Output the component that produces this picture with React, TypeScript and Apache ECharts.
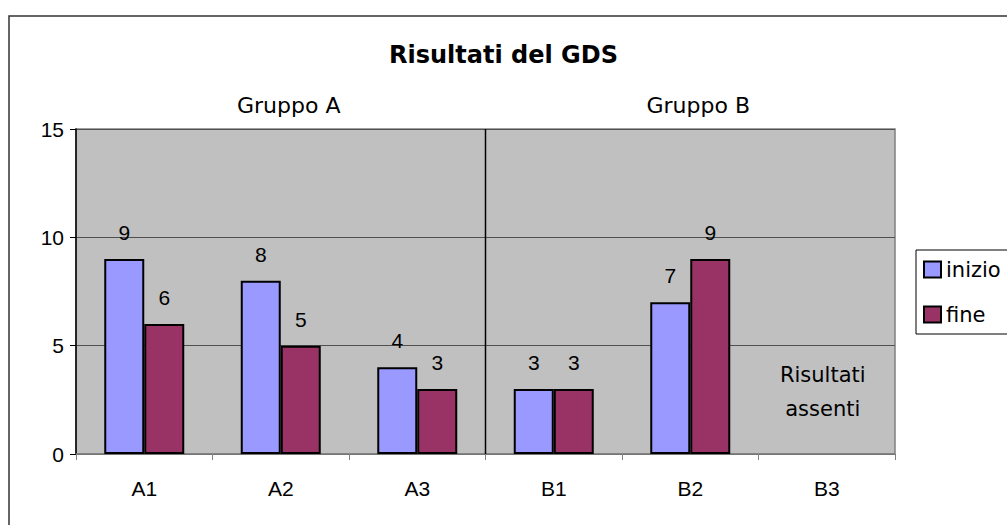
import React, { useEffect, useRef } from "react";
import * as echarts from "echarts";

const categories = ["A1", "A2", "A3", "B1", "B2", "B3"];
const inizio: (number | null)[] = [9, 8, 4, 3, 7, null];
const fine: (number | null)[] = [6, 5, 3, 3, 9, null];
const groupNames = ["Gruppo A", "Gruppo B"];
const groupMembers = [["A1", "A2", "A3"], ["B1", "B2", "B3"]];
const missingNote = "Risultati\nassenti";
const missingCategory = "B3";
const titleText = "Risultati del GDS";

const GOTHIC = "DejaVu Sans";
const ARIAL = "Liberation Sans";

export default function App() {
  const ref = useRef<HTMLDivElement>(null);
  useEffect(() => {
    document.body.style.margin = "0";
    const chart = echarts.init(ref.current!, null, { renderer: "svg" });
    const option: any = {
      animation: false,
      backgroundColor: "#fff",
      title: {
        text: titleText,
        left: "center",
        top: 38,
        textStyle: { fontFamily: GOTHIC, fontSize: 24, fontWeight: "bold", color: "#000" },
      },
      legend: {
        orient: "vertical",
        left: 916,
        top: 250,
        padding: [9, 20, 9, 7],
        itemWidth: 17,
        itemHeight: 16,
        itemGap: 24,
        borderColor: "#000",
        borderWidth: 1,
        icon: "rect",
        textStyle: { fontFamily: GOTHIC, fontSize: 21, color: "#000", lineHeight: 21 },
        itemStyle: { borderColor: "#000", borderWidth: 2 },
        data: ["inizio", "fine"],
      },
      grid: {
        left: 76,
        right: 112,
        top: 129,
        bottom: 71,
        show: true,
        backgroundColor: "#C0C0C0",
        borderColor: "#808080",
        borderWidth: 1.5,
      },
      xAxis: {
        type: "category",
        data: categories,
        axisLine: { lineStyle: { color: "#808080", width: 1.5 } },
        axisTick: { show: true, interval: 0, length: 6, lineStyle: { color: "#808080" } },
        axisLabel: { fontFamily: ARIAL, fontSize: 21, color: "#000", margin: 24 },
      },
      yAxis: {
        type: "value",
        min: 0,
        max: 15,
        interval: 5,
        axisLine: { show: true, lineStyle: { color: "#000", width: 1.5 } },
        axisTick: { show: true, length: 6, lineStyle: { color: "#000" } },
        axisLabel: { fontFamily: ARIAL, fontSize: 21, color: "#000", margin: 12 },
        splitLine: { lineStyle: { color: "#505050", width: 1 } },
      },
      series: [
        {
          name: "inizio",
          type: "bar",
          data: inizio,
          barWidth: 40,
          barGap: "0%",
          itemStyle: { color: "#9999FF", borderColor: "#000", borderWidth: 2 },
          label: { show: true, position: "top", distance: 16, fontFamily: ARIAL, fontSize: 21, color: "#000" },
        },
        {
          name: "fine",
          type: "bar",
          data: fine,
          barWidth: 40,
          barGap: "0%",
          itemStyle: { color: "#993366", borderColor: "#000", borderWidth: 2 },
          label: { show: true, position: "top", distance: 16, fontFamily: ARIAL, fontSize: 21, color: "#000" },
        },
      ],
    };
    chart.setOption(option);

    const px = (cat: string) => chart.convertToPixel({ xAxisIndex: 0 }, cat) as number;
    const yTop = chart.convertToPixel({ yAxisIndex: 0 }, 15) as number;
    const yZero = chart.convertToPixel({ yAxisIndex: 0 }, 0) as number;
    const unit = (chart.convertToPixel({ yAxisIndex: 0 }, 0) as number) - (chart.convertToPixel({ yAxisIndex: 0 }, 1) as number);
    const sepX = (px(groupMembers[0][2]) + px(groupMembers[1][0])) / 2;
    const groupCenters = groupMembers.map((g) => (px(g[0]) + px(g[2])) / 2);

    const graphic: any[] = [
      {
        type: "rect",
        shape: { x: 9, y: 16, width: 1200, height: 700 },
        style: { fill: "none", stroke: "#333", lineWidth: 1.5 },
        silent: true,
        z: 100,
      },
      {
        type: "line",
        shape: { x1: sepX, y1: yTop, x2: sepX, y2: yZero },
        style: { stroke: "#000", lineWidth: 1.5 },
        z: 100,
      },
      ...groupNames.map((n, i) => ({
        type: "text",
        x: groupCenters[i] + 8,
        y: yTop - 24,
        style: {
          text: n,
          fontFamily: GOTHIC,
          fontSize: 22,
          fill: "#000",
          align: "center",
          verticalAlign: "middle",
        },
        z: 100,
      })),
      {
        type: "text",
        x: px(missingCategory) - 4,
        y: yZero - unit * 2.85,
        style: {
          text: missingNote,
          fontFamily: GOTHIC,
          fontSize: 21,
          lineHeight: 34,
          fill: "#000",
          align: "center",
          verticalAlign: "middle",
        },
        z: 100,
      },
    ];
    chart.setOption({ graphic });
    return () => chart.dispose();
  }, []);
  return <div ref={ref} style={{ width: 1007, height: 525 }} />;
}
